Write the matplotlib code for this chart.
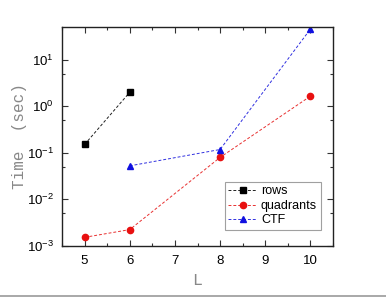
import matplotlib
matplotlib.use("Agg")
import matplotlib.pyplot as plt
from matplotlib.ticker import MultipleLocator, FixedLocator, NullFormatter
from matplotlib.lines import Line2D

L_rows = [5, 6]
t_rows = [0.15, 2.0]
L_quad = [5, 6, 8, 10]
t_quad = [0.0015, 0.0022, 0.079, 1.65]
L_ctf = [6, 8, 10]
t_ctf = [0.052, 0.117, 46]

xticks = [5, 6, 7, 8, 9, 10]
yticks = [1e-3, 1e-2, 1e-1, 1e0, 1e1]
ytick_labels = ["10$^{-3}$", "10$^{-2}$", "10$^{-1}$", "10$^{0}$", "10$^{1}$"]

plt.rcParams['font.family'] = ['Liberation Sans', 'DejaVu Sans']
plt.rcParams['mathtext.fontset'] = 'custom'
plt.rcParams['mathtext.rm'] = 'Liberation Sans'
plt.rcParams['mathtext.it'] = 'Liberation Sans'

fig = plt.figure(figsize=(3.86, 2.97), dpi=100)
ax = fig.add_axes([62/386, 1 - 245.5/297, (333-62)/386, (245.5-27)/297])

ax.plot(L_rows, t_rows, linestyle=(0, (3, 2)), color='#202020', lw=0.7,
        marker='s', markersize=4, markerfacecolor='black', markeredgecolor='black', label='rows')
ax.plot(L_quad, t_quad, linestyle=(0, (3, 2)), color='#e83030', lw=0.7,
        marker='o', markersize=4.5, markerfacecolor='#e81010', markeredgecolor='#e81010', label='quadrants')
ax.plot(L_ctf, t_ctf, linestyle=(0, (3, 2)), color='#3030e0', lw=0.7,
        marker='^', markersize=4.5, markerfacecolor='#1010e0', markeredgecolor='#1010e0', label='CTF')

ax.set_yscale('log')
ax.set_xlim(4.5, 10.5)
ax.set_ylim(1e-3, 51)
ax.set_xticks(xticks)
ax.set_xticklabels([str(v) for v in xticks])
ax.xaxis.set_minor_locator(MultipleLocator(0.5))
ax.set_yticks(yticks)
ax.set_yticklabels(ytick_labels)
ax.yaxis.set_minor_locator(FixedLocator([5e-3, 5e-2, 5e-1, 5e0]))
ax.yaxis.set_minor_formatter(NullFormatter())

ax.tick_params(which='both', direction='in', top=True, right=True, width=0.8, color='#333333')
ax.tick_params(which='major', length=4, labelsize=9.5)
ax.tick_params(axis='x', which='major', pad=7)
ax.tick_params(axis='y', which='major', pad=6)
ax.tick_params(which='minor', length=2)
for s in ax.spines.values():
    s.set_linewidth(1.0)
    s.set_color('#222222')

ax.set_xlabel('L', family=['Liberation Mono', 'DejaVu Sans Mono'], fontsize=12, color='#888888', labelpad=4)
ax.set_ylabel('Time  (sec)', family=['Liberation Mono', 'DejaVu Sans Mono'], fontsize=11.5, color='#888888', labelpad=0)

leg = ax.legend(loc='lower right', bbox_to_anchor=(0.955, 0.07), fontsize=9, frameon=True, fancybox=False,
                handlelength=2.3, handletextpad=0.3, borderpad=0.3, labelspacing=0.2, borderaxespad=0)
leg.get_frame().set_edgecolor('#888888')
leg.get_frame().set_linewidth(0.8)

fig.add_artist(Line2D([0, 1], [1.5/297, 1.5/297], color='#999999', lw=1.2))

fig.savefig('out.png', dpi=100)
